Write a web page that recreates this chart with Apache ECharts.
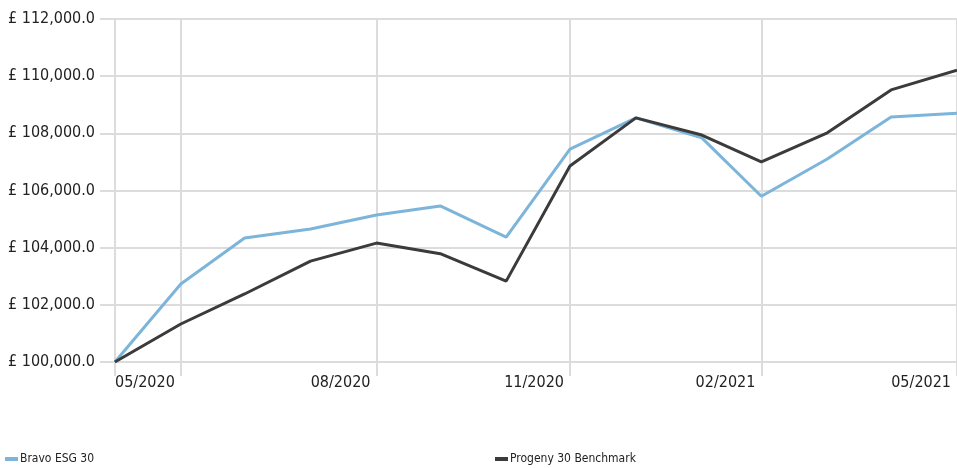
<!DOCTYPE html>
<html><head><meta charset="utf-8">
<script src="https://cdn.jsdelivr.net/npm/echarts@6/dist/echarts.min.js"></script>
<style>html,body{margin:0;padding:0;background:#fff}#c{width:957px;height:468px}</style>
</head><body><div id="c"></div>
<script>
// month-end valuation dates
const dates = ['2020-04-30','2020-05-31','2020-06-30','2020-07-31','2020-08-31','2020-09-30','2020-10-31','2020-11-30','2020-12-31','2021-01-31','2021-02-28','2021-03-31','2021-04-30','2021-05-31'];
const bravo = [100000,102730,104340,104650,105140,105460,104370,107450,108540,107840,105800,107100,108570,108700];
const progeny = [100000,101330,102380,103530,104160,103790,102830,106860,108540,107940,107000,108020,109520,110210];
const seriesNames = ['Bravo ESG 30','Progeny 30 Benchmark'];
const xRange = ['2020-04-23','2021-05-31'];
const xTickDates = ['2020-04-30','2020-05-31','2020-08-31','2020-11-30','2021-02-28','2021-05-31'];
const xLabelDates = ['2020-05-31','2020-08-31','2020-11-30','2021-02-28','2021-05-31'];
const yTicks = {min:100000, max:112000, interval:2000};

const ts = s => { const [y,m,d] = s.split('-').map(Number); return Date.UTC(y, m-1, d); };
const FONT = '"DejaVu Sans Condensed","DejaVu Sans",sans-serif';
const GRID = '#dcdcdc';
const TXT = '#222';

const chart = echarts.init(document.getElementById('c'));
chart.setOption({
  animation:false,
  grid:{left:100,top:19,bottom:106,width:862,containLabel:false},
  legend:[
    {data:[seriesNames[0]],left:0,top:448,itemWidth:13,itemHeight:4,icon:'rect',itemGap:4,
     textStyle:{fontFamily:FONT,fontSize:12,color:TXT,padding:[0,0,0,-3]}},
    {data:[seriesNames[1]],left:490,top:448,itemWidth:13,itemHeight:4,icon:'rect',itemGap:4,
     textStyle:{fontFamily:FONT,fontSize:12,color:TXT,padding:[0,0,0,-3]}}
  ],
  xAxis:{type:'value',min:ts(xRange[0]),max:ts(xRange[1]),
    axisLine:{show:false},
    axisTick:{show:true,length:14,customValues:xTickDates.map(ts),lineStyle:{color:GRID,width:2}},
    splitLine:{show:true,lineStyle:{color:GRID,width:2}},
    axisLabel:{customValues:xLabelDates.map(ts),align:'right',margin:13,padding:[0,6,0,0],
      fontFamily:FONT,fontSize:16,color:TXT,showMinLabel:true,showMaxLabel:true,
      formatter:v=>{const d=new Date(v);return String(d.getUTCMonth()+1).padStart(2,'0')+'/'+d.getUTCFullYear();}}
  },
  yAxis:{type:'value',min:yTicks.min,max:yTicks.max,interval:yTicks.interval,
    axisLine:{show:false},
    axisTick:{show:false},
    splitLine:{show:true,lineStyle:{color:GRID,width:2}},
    axisLabel:{margin:5,fontFamily:FONT,fontSize:16,color:TXT,
      formatter:v=>'£ '+v.toLocaleString('en-GB',{minimumFractionDigits:1,maximumFractionDigits:1})}
  },
  series:[
    {name:seriesNames[0],type:'line',data:dates.map((d,i)=>[ts(d),bravo[i]]),symbol:'none',
     lineStyle:{width:3,color:'#7db5da'},itemStyle:{color:'#7db5da'}},
    {name:seriesNames[1],type:'line',data:dates.map((d,i)=>[ts(d),progeny[i]]),symbol:'none',
     lineStyle:{width:3,color:'#3b3b3b'},itemStyle:{color:'#3b3b3b'}}
  ]
});
</script></body></html>
